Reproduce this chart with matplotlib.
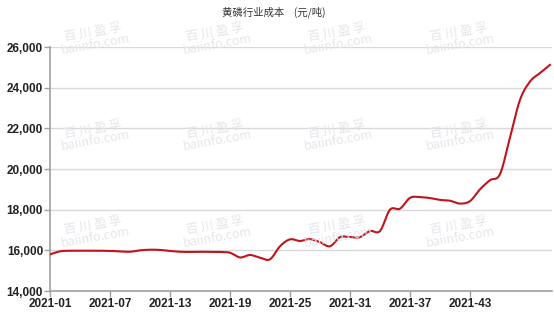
import matplotlib
matplotlib.use("Agg")
import matplotlib.pyplot as plt
from matplotlib.ticker import FuncFormatter
import numpy as np

plt.rcParams['font.family'] = ['Liberation Sans', 'Noto Sans CJK SC', 'DejaVu Sans']

# weekly cost of yellow phosphorus, 2021 week 1..51 (yuan/ton)
weeks = list(range(1, 52))
cost = [15800, 15950, 15980, 15980, 15980, 15980, 15970, 15950, 15930, 16000,
        16030, 16020, 15970, 15930, 15920, 15930, 15920, 15920, 15880, 15650,
        15770, 15640, 15560, 16200, 16540, 16460, 16550, 16400, 16200, 16650,
        16650, 16650, 16950, 16950, 18000, 18050, 18580, 18620, 18570, 18480,
        18440, 18300, 18420, 19000, 19450, 19750, 21550, 23400, 24300, 24720,
        25120]
tick_weeks = [1, 7, 13, 19, 25, 31, 37, 43]
tick_labels = ["2021-01", "2021-07", "2021-13", "2021-19", "2021-25",
               "2021-31", "2021-37", "2021-43"]
title = "黄磷行业成本    (元/吨)"


# Catmull-Rom curve through the points, only for a smooth look
def smooth(x, y, n=12):
    x = np.asarray(x, float)
    y = np.asarray(y, float)
    px = np.concatenate([[2 * x[0] - x[1]], x, [2 * x[-1] - x[-2]]])
    py = np.concatenate([[2 * y[0] - y[1]], y, [2 * y[-1] - y[-2]]])
    xs, ys = [], []
    t = np.linspace(0, 1, n, endpoint=False)
    for i in range(1, len(px) - 2):
        for arr, out in ((px, xs), (py, ys)):
            p0, p1, p2, p3 = arr[i - 1], arr[i], arr[i + 1], arr[i + 2]
            out.extend(0.5 * (2 * p1 + (-p0 + p2) * t
                              + (2 * p0 - 5 * p1 + 4 * p2 - p3) * t ** 2
                              + (-p0 + 3 * p1 - 3 * p2 + p3) * t ** 3))
    xs.append(x[-1])
    ys.append(y[-1])
    return np.array(xs), np.array(ys)


fig = plt.figure(figsize=(5.54, 3.21), dpi=100)
ax = fig.add_axes([50 / 554, 30 / 321, 502 / 554, 244 / 321])

# faint watermark
for wx in [0.17, 0.39, 0.61, 0.83]:
    for wy in [0.88, 0.58, 0.28]:
        fig.text(wx, wy, "百 川 盈 孚\nbaiinfo.com", color="#e3e6ea", fontsize=9,
                 rotation=10, ha="center", va="center", linespacing=0.9,
                 family=['Noto Sans CJK SC', 'DejaVu Sans'], zorder=0)

sx, sy = smooth(weeks, cost)
ax.plot(sx, sy, color="#c0141c", linewidth=1.5, zorder=3)

ax.set_xlim(1, 51.2)
ax.set_ylim(14000, 26000)
ax.set_yticks(np.arange(14000, 26001, 2000))
ax.yaxis.set_major_formatter(FuncFormatter(lambda v, p: f"{int(v):,}"))
ax.set_xticks(tick_weeks)
ax.set_xticklabels(tick_labels)

ax.grid(axis="y", color="#d9d9d9", linewidth=1)
ax.set_axisbelow(True)
ax.patch.set_alpha(0)
for s in ["top", "right"]:
    ax.spines[s].set_visible(False)
for s in ["left", "bottom"]:
    ax.spines[s].set_color("#a0a0a0")
    ax.spines[s].set_linewidth(1.2)
ax.tick_params(axis="both", colors="#a0a0a0", length=4, width=1,
               labelsize=8.5, labelcolor="#222222", pad=1)
for lab in ax.get_xticklabels() + ax.get_yticklabels():
    lab.set_fontweight("bold")

fig.text(0.495, 0.962, title, ha="center", va="center", fontsize=7.5,
         color="#333333", family=['Noto Sans CJK SC', 'DejaVu Sans'])

fig.savefig("out.png", dpi=100)
